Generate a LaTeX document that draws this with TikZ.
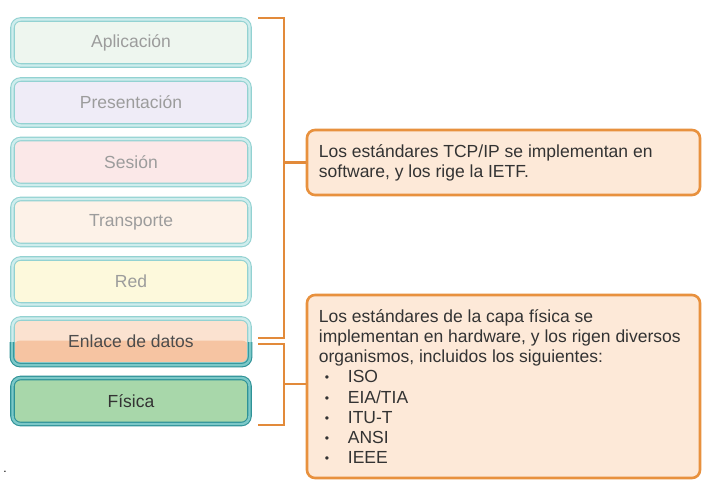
\documentclass[tikz,border=0pt]{standalone}
\usepackage{fontspec}
\setmainfont{Liberation Sans}
\definecolor{tealL}{HTML}{93D2D2}
\definecolor{tealLL}{HTML}{CFEDED}
\definecolor{tealD}{HTML}{2E9297}
\definecolor{tealDM}{HTML}{7CC8C8}
\definecolor{brk}{HTML}{E28A3A}
\definecolor{cfill}{HTML}{FDE9D8}
\definecolor{cedge}{HTML}{E8913E}
\definecolor{txtL}{HTML}{9C9C9C}
\definecolor{fApp}{HTML}{EEF6EF}
\definecolor{fPre}{HTML}{EFECF7}
\definecolor{fSes}{HTML}{FBE8E8}
\definecolor{fTra}{HTML}{FDF2E8}
\definecolor{fRed}{HTML}{FDF9DC}
\definecolor{fEnT}{HTML}{FBE2D0}
\definecolor{fEnB}{HTML}{F6C4A2}
\definecolor{fFis}{HTML}{A8D7AA}
\newcommand{\bulitem}{\makebox[29pt][l]{\hspace{6pt}\raisebox{1pt}{\scalebox{0.7}{•}}}}
\begin{document}
\begin{tikzpicture}[x=1pt,y=-1pt,
  layer/.style={rounded corners=8pt, minimum width=237pt, minimum height=46pt,
    draw=tealL, double=tealLL, double distance=2.4pt, line width=1.1pt,
    font=\fontsize{17.5}{20}\selectfont, text=txtL, inner sep=0pt},
  callout/.style={rounded corners=8pt, draw=cedge, line width=2.6pt, fill=cfill,
    inner sep=0pt},
  ctext/.style={anchor=west, align=left, inner sep=0pt, text=black!80,
    font=\fontsize{17.5}{20.2}\selectfont},
  brkt/.style={draw=brk, line width=2.6pt}]
\useasboundingbox[fill=white] (0,0) rectangle (708,487);

% layers
\node[layer, fill=fApp] (app) at (131,42.5) {Aplicación};
\node[layer, fill=fPre] (pre) at (131,102.5) {Presentación};
\node[layer, fill=fSes] (ses) at (131,162) {Sesión};
\node[layer, fill=fTra] (tra) at (131,222) {Transporte};
\node[layer, fill=fRed] (red) at (131,281.5) {Red};
\node[layer, fill=fEnT, text=black!70,
  path picture={\fill[fEnB] ([yshift=1pt]path picture bounding box.west) rectangle (path picture bounding box.south east);}]
  (enl) at (131,341.5) {};
\begin{scope}
  \clip (0,342) rectangle (260,372);
  \draw[rounded corners=8pt, draw=tealD, double=tealDM, double distance=2.4pt, line width=1.1pt]
    (enl.north west) rectangle (enl.south east);
\end{scope}
\node[font=\fontsize{17.5}{20}\selectfont, text=black!70] (enlt) at (enl) {Enlace de datos};
\node[layer, fill=fFis, draw=tealD, double=tealDM, text=black!80] (fis) at (131,401) {Física};

% callouts
\node[callout, minimum width=393pt, minimum height=65pt] (tcp) at (503.5,162.5) {};
\node[ctext] (tcpt) at ([xshift=13pt]tcp.west) {Los estándares TCP/IP se implementan en\\software, y los rige la IETF.};

\node[callout, minimum width=393pt, minimum height=183pt] (phy) at (503.5,386.5) {};
\node[ctext] (phyt) at ([xshift=13pt]phy.west) {Los estándares de la capa física se\\
implementan en hardware, y los rigen diversos\\
organismos, incluidos los siguientes:\\
\bulitem ISO\\
\bulitem EIA/TIA\\
\bulitem ITU-T\\
\bulitem ANSI\\
\bulitem IEEE};

% brackets
\coordinate (u1) at (258,18);
\coordinate (u2) at (258,338);
\coordinate (l1) at (258,344);
\coordinate (l2) at (258,425);
\draw[brkt] (u1) -- (284,18) -- (284,338) -- (u2);
\draw[brkt] (284,162.5) -- (tcp.west);
\draw[brkt] (l1) -- (284,344) -- (284,425) -- (l2);
\coordinate (lm) at (284,384);
\draw[brkt] (lm) -- (lm -| phy.west);

% stray dot
\node[inner sep=0pt, font=\fontsize{12}{12}\selectfont] (dot) at (5,472) {.};
\end{tikzpicture}
\end{document}
